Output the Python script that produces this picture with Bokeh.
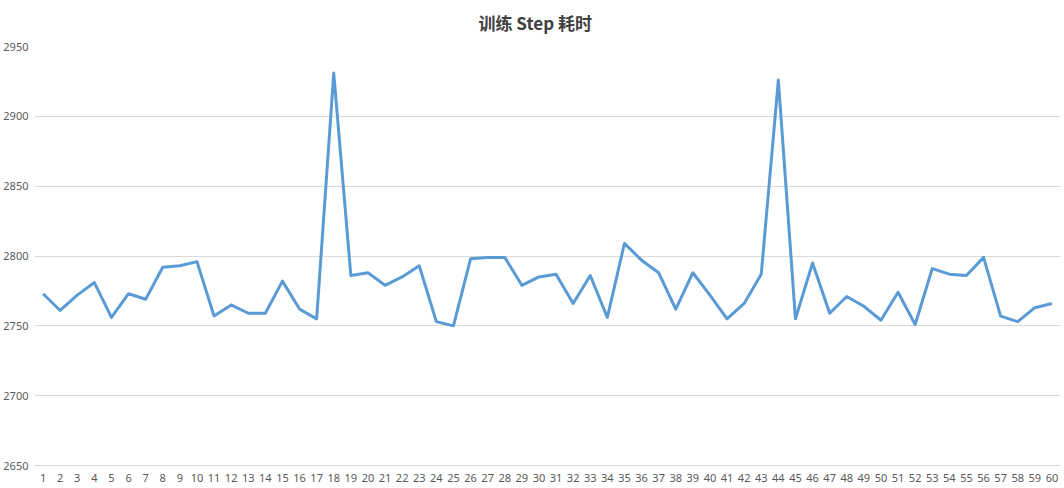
from bokeh.plotting import figure
from bokeh.models import FixedTicker, Range1d, ColumnDataSource
from bokeh.embed import file_html
from bokeh.resources import INLINE

title_text = "训练 Step 耗时"
steps = list(range(1, 61))
times = [2773, 2761, 2772, 2781, 2756, 2773, 2769, 2792, 2793, 2796,
         2757, 2765, 2759, 2759, 2782, 2762, 2755, 2931, 2786, 2788,
         2779, 2785, 2793, 2753, 2750, 2798, 2799, 2799, 2779, 2785,
         2787, 2766, 2786, 2756, 2809, 2797, 2788, 2762, 2788, 2772,
         2755, 2766, 2787, 2926, 2755, 2795, 2759, 2771, 2764, 2754,
         2774, 2751, 2791, 2787, 2786, 2799, 2757, 2753, 2763, 2766]
y_ticks = [2650, 2700, 2750, 2800, 2850, 2900, 2950]

src = ColumnDataSource(dict(x=steps, y=times))

p = figure(width=1064, height=488, output_backend="svg", toolbar_location=None,
           x_range=Range1d(0.5, 60.5), y_range=Range1d(2650, 2950),
           min_border_left=33, min_border_right=4, min_border_top=46,
           min_border_bottom=23, title=title_text)
p.outline_line_color = None
p.background_fill_color = "white"
p.border_fill_color = "white"

p.title.align = "left"
p.title.offset = 444
p.title.standoff = 19
p.title.vertical_align = "top"
p.title.text_font = "Noto Sans CJK SC"
p.title.text_font_style = "bold"
p.title.text_font_size = "17px"
p.title.text_color = "#404040"

p.line("x", "y", source=src, line_color="#5B9BD5", line_width=3, line_join="round")

font = "Noto Sans"
p.xaxis.ticker = FixedTicker(ticks=steps)
p.yaxis.ticker = FixedTicker(ticks=y_ticks)
for ax in (p.xaxis[0], p.yaxis[0]):
    ax.axis_line_color = None
    ax.major_tick_line_color = None
    ax.minor_tick_line_color = None
    ax.major_tick_out = 0
    ax.major_tick_in = 0
    ax.minor_tick_out = 0
    ax.minor_tick_in = 0
    ax.major_label_text_font = font
    ax.major_label_text_font_size = "11px"
    ax.major_label_text_color = "#595959"
p.xaxis.axis_line_color = "#D9D9D9"
p.xaxis.major_label_standoff = 8
p.yaxis.major_label_standoff = 6

p.xgrid.grid_line_color = None
p.ygrid.grid_line_color = "#D9D9D9"
p.ygrid.grid_line_width = 1

open("out.html", "w").write(file_html(p, INLINE))
